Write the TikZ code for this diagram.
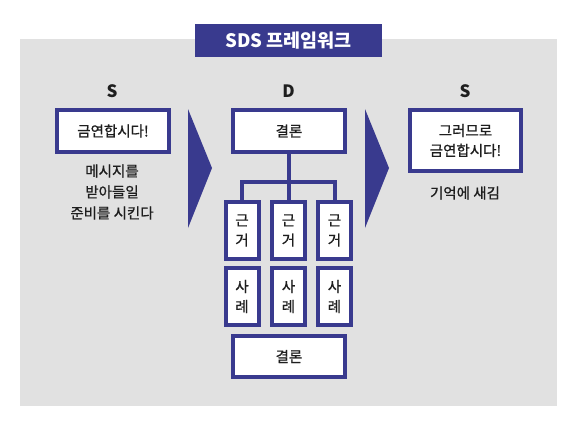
\documentclass[tikz,border=0pt]{standalone}
\usepackage{fontspec}
\setmainfont{Noto Sans CJK KR}
\newfontfamily\krmed{Noto Sans CJK KR}[FakeBold=0.9]
\definecolor{sdsblue}{HTML}{393A8E}
\definecolor{sdsgray}{HTML}{E1E1E1}
\definecolor{sdstext}{HTML}{1E1E1E}
\tikzset{
  box/.style={draw=sdsblue,line width=4pt,fill=white,inner sep=0pt,align=center,
    text=sdstext,font=\krmed\fontsize{14.5}{20}\selectfont},
  widebox/.style={box,minimum width=112pt,minimum height=42pt},
  tallbox/.style={box,minimum width=33pt,minimum height=57pt},
  stage/.style={inner sep=0pt,text=sdstext,font=\fontsize{17}{18}\selectfont\bfseries},
  caption/.style={inner sep=0pt,align=center,text=sdstext,font=\krmed\fontsize{14.5}{21}\selectfont},
  link/.style={draw=sdsblue,line width=4pt,line join=miter},
  chevron/.style={fill=sdsblue}
}
\begin{document}
\begin{tikzpicture}[x=1pt,y=-1pt]
  \useasboundingbox (0,0) rectangle (572,421);
  \fill[sdsgray] (20,39) rectangle (557,406);
  \node[fill=sdsblue,minimum width=187pt,minimum height=33pt,inner sep=0pt,text=white,
    font=\fontsize{18.5}{20}\selectfont\bfseries] (title) at (288.5,40.5) {SDS 프레임워크};
  % stages
  \node[stage] (s1) at (112,91) {S};
  \node[stage] (d) at (288.5,91) {D};
  \node[stage] (s2) at (465,91) {S};
  % left column
  \node[widebox] (start) at (113,131) {금연합시다!};
  \node[caption] (startnote) at (112,192) {메시지를\\받아들일\\준비를 시킨다};
  % arrows
  \fill[chevron] (188,109) -- (212,168) -- (188,228) -- cycle;
  \fill[chevron] (365,109) -- (389,168) -- (365,228) -- cycle;
  % middle column
  \node[widebox] (top) at (289,131) {결론};
  \node[tallbox] (g1) at (242,230.5) {근\\거};
  \node[tallbox] (g2) at (288.5,230.5) {근\\거};
  \node[tallbox] (g3) at (334.5,230.5) {근\\거};
  \node[tallbox] (e1) at (242,296.5) {사\\례};
  \node[tallbox] (e2) at (288.5,296.5) {사\\례};
  \node[tallbox] (e3) at (334.5,296.5) {사\\례};
  \node[widebox,minimum height=41pt] (bottom) at (289,356.5) {결론};
  \coordinate (hub) at (288.5,182);
  \draw[link] (g1.north) |- (hub) -| (g3.north);
  \draw[link] (top.south -| g2.north) -- (g2.north);
  % right column
  \node[widebox,minimum width=111pt,minimum height=61pt] (end) at (465.5,140.5) {그러므로\\금연합시다!};
  \node[caption] (endnote) at (465,193) {기억에 새김};
\end{tikzpicture}
\end{document}
